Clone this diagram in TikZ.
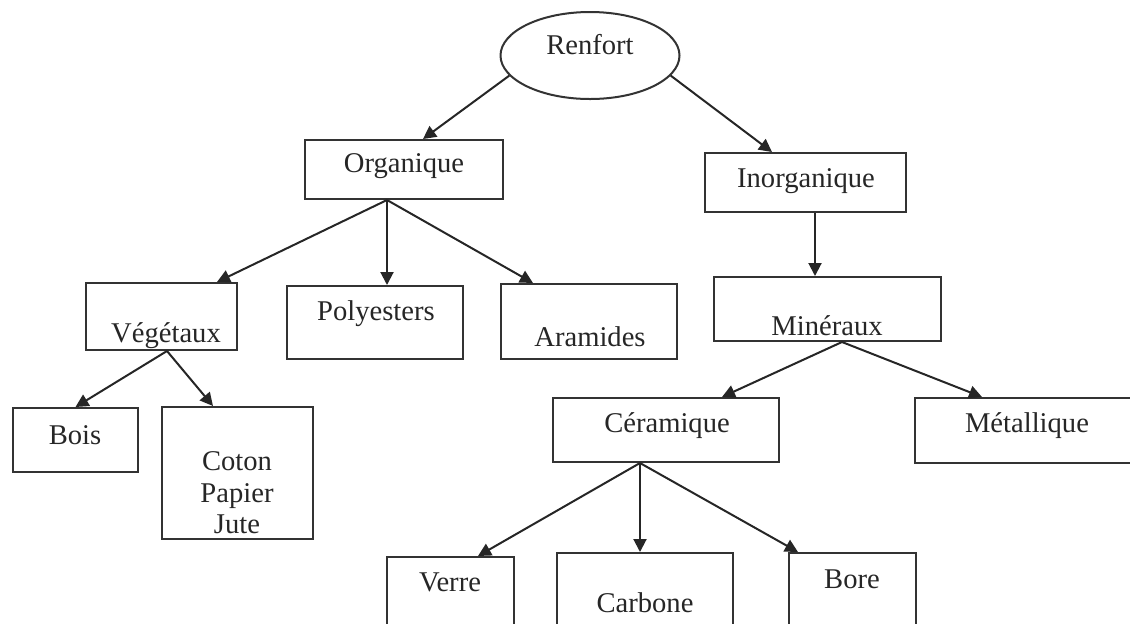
\documentclass[tikz,border=0pt]{standalone}
\usepackage{fontspec}
\setmainfont{Liberation Serif}
\usetikzlibrary{shapes.geometric,arrows.meta,calc}
\begin{document}
\begin{tikzpicture}[x=0.5pt,y=-0.5pt,
    every node/.style={font=\fontsize{14.3}{15.8}\selectfont, text=black!85},
    box/.style 2 args={draw=black!80, line width=1pt, rectangle, inner sep=0pt,
      minimum width=#1*0.5pt, minimum height=#2*0.5pt},
    lbl/.style={inner sep=0pt, text height=0.7em, text depth=0.22em},
    arr/.style={draw=black!85, line width=1pt, -{Triangle[length=6.5pt,width=6.5pt]}}]
    \useasboundingbox (0,0) rectangle (1130,623);
    \clip (0,0) rectangle (1130,623);

    \node[ellipse, draw=black!80, line width=1pt, inner sep=0pt,
      minimum width=89.5pt, minimum height=43.5pt] (ren) at (590,55.5) {};
    \node[lbl] (ren-t) at (590,50) {Renfort};

    \node[box={198}{59}] (org) at (404,169.5) {};
    \node[lbl] (org-t) at (404,168) {Organique};
    \node[box={201}{59}] (inorg) at (805.5,182.5) {};
    \node[lbl] (inorg-t) at (806,183) {Inorganique};

    \node[box={151}{67}] (veg) at (161.5,316.5) {};
    \node[lbl] (veg-t) at (166,338) {Végétaux};
    \node[box={176}{73}] (poly) at (375,322.5) {};
    \node[lbl] (poly-t) at (376,316) {Polyesters};
    \node[box={176}{75}] (aram) at (589,321.5) {};
    \node[lbl] (aram-t) at (590,342) {Aramides};
    \node[box={227}{64}] (min) at (827.5,309) {};
    \node[lbl] (min-t) at (827,331) {Minéraux};

    \node[box={125}{64}] (bois) at (75.5,440) {};
    \node[lbl] (bois-t) at (75,440) {Bois};
    \node[box={151}{132}] (coton) at (237.5,473) {};
    \node[inner sep=0pt, align=center] (coton-t) at (237,493) {Coton\\Papier\\Jute};
    \node[box={226}{64}] (ceram) at (666,430) {};
    \node[lbl] (ceram-t) at (667,428) {Céramique};
    \node[box={225}{65}] (metal) at (1027.5,430.5) {};
    \node[lbl] (metal-t) at (1027,428) {Métallique};

    \node[box={127}{83}] (verre) at (450.5,598.5) {};
    \node[lbl] (verre-t) at (450,587) {Verre};
    \node[box={176}{87}] (carb) at (645,596.5) {};
    \node[lbl] (carb-t) at (645,608) {Carbone};
    \node[box={127}{87}] (bore) at (852.5,596.5) {};
    \node[lbl] (bore-t) at (852,584) {Bore};

    \draw[arr] (ren.194) -- ($(org.north)+(19,0)$);
    \draw[arr] (ren.346) -- ($(inorg.north)+(-33.5,0)$);

    \draw[arr] ($(org.south)+(-17,0)$) -- ($(veg.north)+(55.5,0)$);
    \draw[arr] ($(org.south)+(-17,0)$) -- ($(poly.north)+(12,0)$);
    \draw[arr] ($(org.south)+(-17,0)$) -- ($(aram.north)+(-56,0)$);

    \draw[arr] ($(inorg.south)+(9.5,0)$) -- ($(min.north)+(-12.5,0)$);

    \draw[arr] ($(veg.south)+(5.5,0)$) -- (bois.north);
    \draw[arr] ($(veg.south)+(5.5,0)$) -- ($(coton.north)+(-24.5,0)$);

    \draw[arr] ($(min.south)+(14.5,0)$) -- ($(ceram.north)+(56,0)$);
    \draw[arr] ($(min.south)+(14.5,0)$) -- ($(metal.north)+(-45.5,0)$);

    \draw[arr] ($(ceram.south)+(-26,0)$) -- ($(verre.north)+(27.5,0)$);
    \draw[arr] ($(ceram.south)+(-26,0)$) -- ($(carb.north)+(-5,0)$);
    \draw[arr] ($(ceram.south)+(-26,0)$) -- ($(bore.north)+(-54.5,0)$);
  \end{tikzpicture}
\end{document}
